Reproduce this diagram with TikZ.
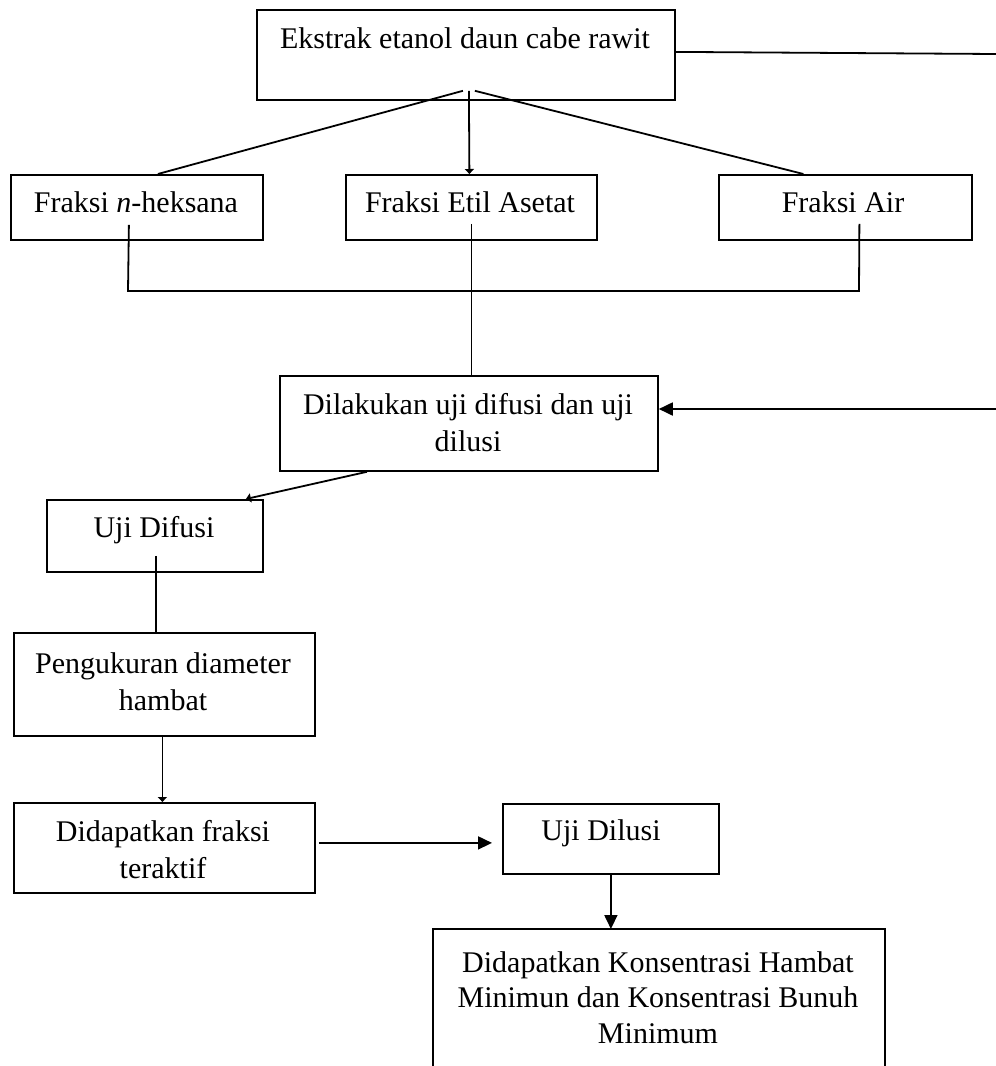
\documentclass[tikz,border=0pt]{standalone}
\usepackage{fontspec}
\setmainfont{Liberation Serif}
\usetikzlibrary{arrows.meta,calc}

\begin{document}
\begin{tikzpicture}[x=1pt,y=-1pt,
  box/.style={draw, line width=1.8pt, rectangle, inner sep=0pt, anchor=north west},
  txt/.style={inner sep=0pt, anchor=base, align=center, font=\fontsize{30}{37}\selectfont},
  link/.style={line width=1.8pt},
  bighead/.style={-{Triangle[length=14pt,width=13pt]}},
  smallhead/.style={-{Triangle[length=5pt,width=9pt]}}]

\useasboundingbox (0,0) rectangle (996,1066);

% boxes
\node[box, minimum width=418pt, minimum height=90pt]  (top)    at (256,9)   {};
\node[box, minimum width=252pt, minimum height=65pt]  (hex)    at (10,174)  {};
\node[box, minimum width=251pt, minimum height=65pt]  (etil)   at (345,174) {};
\node[box, minimum width=253pt, minimum height=65pt]  (air)    at (718,174) {};
\node[box, minimum width=378pt, minimum height=95pt]  (dil)    at (279,375) {};
\node[box, minimum width=216pt, minimum height=72pt]  (difusi) at (46,499)  {};
\node[box, minimum width=301pt, minimum height=103pt] (ukur)   at (13,632)  {};
\node[box, minimum width=301pt, minimum height=90pt]  (aktif)  at (13,802)  {};
\node[box, minimum width=216pt, minimum height=70pt]  (dilusi) at (502,803) {};
\node[box, draw=none, minimum width=450pt, minimum height=137pt] (final) at (433,929) {};
\draw[link] (final.south west) -- (final.north west) -- (final.north east) -- (final.south east);

% texts (multi-line nodes sit on the baseline of their last line)
\node[txt] (top-t)    at (465,48)  {Ekstrak etanol daun cabe rawit};
\node[txt] (hex-t)    at (136,212) {Fraksi \textit{n}-heksana};
\node[txt] (etil-t)   at (470,212) {Fraksi Etil Asetat};
\node[txt] (air-t)    at (843,212) {Fraksi Air};
\node[txt] (dil-t)    at (468,451) {Dilakukan uji difusi dan uji\\dilusi};
\node[txt] (difusi-t) at (154,537) {Uji Difusi};
\node[txt] (ukur-t)   at (163,710) {Pengukuran diameter\\hambat};
\node[txt] (aktif-t)  at (163,878) {Didapatkan fraksi\\teraktif};
\node[txt] (dilusi-t) at (601,840) {Uji Dilusi};
\node[txt, font=\fontsize{30}{35.5}\selectfont] (final-t) at (658,1043)
  {Didapatkan Konsentrasi Hambat\\Minimun dan Konsentrasi Bunuh\\Minimum};

% free ends at the right margin
\coordinate (rimA) at (996,54);
\coordinate (rimB) at (996,409);
\coordinate (busL) at (128,291);
\coordinate (busR) at (859,291);

% connectors
\draw[link] ([yshift=3pt]top.east) -- (rimA);
\draw[link] ([xshift=-3pt,yshift=10pt]top.south) -- ([xshift=21pt]hex.north);
\draw[link,smallhead] ([xshift=3pt,yshift=10pt]top.south) -- ([xshift=-2pt]etil.north);
\draw[link] ([xshift=9pt,yshift=10pt]top.south) -- ([xshift=-42pt]air.north);

\draw[link] ([xshift=-8pt,yshift=16pt]hex.south) -- (busL) -- (busR)
  -- ([xshift=14pt,yshift=17pt]air.south);
\draw[link] ([yshift=17pt]etil.south) -- (etil.south |- dil.north);

\draw[link,bighead] (rimB) -- (dil.east |- rimB);
\draw[link,smallhead] ([xshift=-102pt]dil.south) -- ([xshift=91pt]difusi.north);
\draw[link] ([xshift=1pt,yshift=17pt]difusi.south) -- ([xshift=1pt]difusi.south |- ukur.north);
\draw[link,smallhead] ([xshift=-2pt]ukur.south) -- ([xshift=-2pt]aktif.north);
\draw[link,bighead] ($(aktif.east)+(3,-5)$) -- ($(dilusi.west)+(-10,4)$);
\draw[link,bighead] (dilusi.south) -- (final.north -| dilusi.south);
\end{tikzpicture}
\end{document}
